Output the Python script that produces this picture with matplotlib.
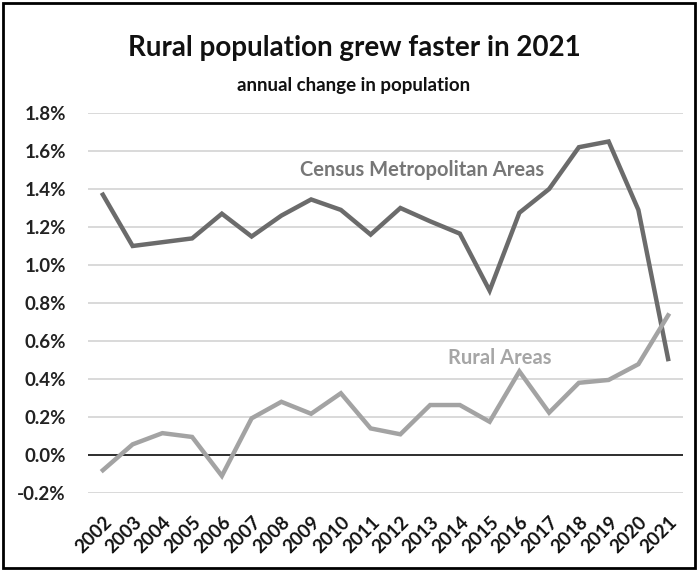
import matplotlib
matplotlib.use("Agg")
import matplotlib.pyplot as plt
from matplotlib.ticker import FuncFormatter
from matplotlib.patches import Rectangle

years = [str(y) for y in range(2002, 2022)]
metro = [1.37, 1.10, 1.12, 1.14, 1.27, 1.15, 1.26, 1.345, 1.29, 1.16,
         1.30, 1.23, 1.165, 0.865, 1.275, 1.40, 1.62, 1.65, 1.29, 0.505]
rural = [-0.08, 0.056, 0.115, 0.095, -0.11, 0.193, 0.28, 0.217, 0.325, 0.14,
         0.109, 0.263, 0.263, 0.175, 0.44, 0.223, 0.38, 0.395, 0.478, 0.735]
y_ticks = [-0.2, 0.0, 0.2, 0.4, 0.6, 0.8, 1.0, 1.2, 1.4, 1.6, 1.8]

title = "Rural population grew faster in 2021"
subtitle = "annual change in population"

plt.rcParams['font.family'] = ['Lato', 'DejaVu Sans']

fig = plt.figure(figsize=(6.98, 5.70), dpi=100)
ax = fig.add_axes([88 / 698, 77 / 570, 595 / 698, 380 / 570])

x = list(range(len(years)))
ax.plot(x, metro, color='#6b6b6b', lw=3.2, solid_joinstyle='miter', zorder=3)
ax.plot(x, rural, color='#a3a3a3', lw=3.2, solid_joinstyle='miter', zorder=3)

ax.set_xlim(-0.5, len(years) - 0.5)
ax.set_ylim(-0.2, 1.8)
ax.set_yticks(y_ticks)
ax.yaxis.set_major_formatter(FuncFormatter(lambda v, p: f"{v:.1f}%"))
ax.grid(axis='y', color='#d9d9d9', lw=1.4, zorder=0)
ax.axhline(0, color='black', lw=1.1, zorder=2)
for s in ax.spines.values():
    s.set_visible(False)
ax.tick_params(length=0)
ax.tick_params(axis='y', pad=16)
for lab in ax.get_yticklabels():
    lab.set_fontsize(13.5)
    lab.set_fontweight('bold')
    lab.set_color('#222222')

ax.set_xticks(x)
ax.set_xticklabels(years, rotation=45, ha='right', rotation_mode='anchor',
                   fontsize=13.5, fontweight='bold', color='#111111')
ax.tick_params(axis='x', pad=15)

ax.text(10.74, 1.50, "Census Metropolitan Areas", color='#777777',
        fontsize=14.5, fontweight='bold', ha='center', va='center')
ax.text(13.33, 0.51, "Rural Areas", color='#a6a6a6',
        fontsize=14.5, fontweight='bold', ha='center', va='center')

fig.text(354 / 698, 1 - 48 / 570, title, ha='center', va='center',
         fontsize=20, fontweight='bold', color='#111111')
fig.text(354 / 698, 1 - 85 / 570, subtitle, ha='center', va='center',
         fontsize=13.5, fontweight='bold', color='#111111')

fig.patches.append(Rectangle((3 / 698, 2 / 570), 692 / 698, 565 / 570,
                             transform=fig.transFigure, fill=False,
                             edgecolor='black', lw=2))

fig.savefig("out.png", dpi=100, facecolor='white')
